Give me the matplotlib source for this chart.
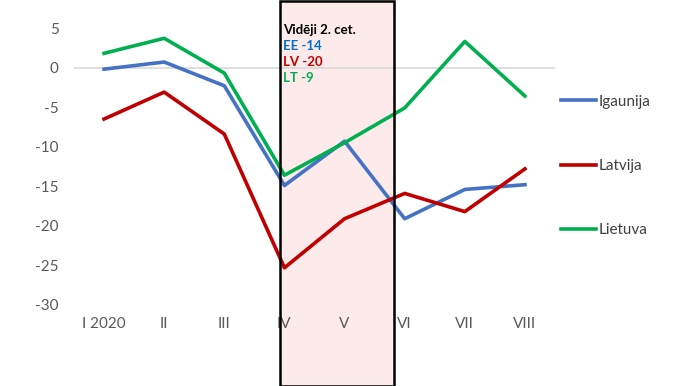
import numpy as np
import matplotlib
matplotlib.use("Agg")
import matplotlib.pyplot as plt
from matplotlib.patches import Rectangle
from matplotlib.transforms import blended_transform_factory

plt.rcParams['font.family'] = ['Lato', 'DejaVu Sans']
plt.rcParams['axes.unicode_minus'] = False

# months of 2020
months = ['I 2020', 'II', 'III', 'IV', 'V', 'VI', 'VII', 'VIII']
igaunija = [-0.2, 0.7, -2.3, -14.9, -9.3, -19.1, -15.4, -14.8]
latvija = [-6.5, -3.1, -8.4, -25.3, -19.1, -15.9, -18.2, -12.8]
lietuva = [1.8, 3.7, -0.7, -13.6, -9.5, -5.1, 3.3, -3.6]

# 2nd quarter averages
avg_labels = ['EE -14', 'LV -20', 'LT -9']

c_blue = '#4472C4'
c_red = '#C00000'
c_green = '#00B050'

fig = plt.figure(figsize=(7, 3.86), dpi=100)
ax = fig.add_axes([74/700, 81/386, 481/700, 277/386])
ax.set_facecolor('none')

x = np.arange(len(months))
ax.plot(x, igaunija, color=c_blue, lw=2.6, label='Igaunija', zorder=3, solid_joinstyle='round')
ax.plot(x, latvija, color=c_red, lw=2.6, label='Latvija', zorder=3, solid_joinstyle='round')
ax.plot(x, lietuva, color=c_green, lw=2.6, label='Lietuva', zorder=3, solid_joinstyle='round')

ax.axhline(0, color='#D9D9D9', lw=1.2, zorder=1)

ax.set_xlim(-0.5, len(months) - 0.5)
ax.set_ylim(-30, 5)
ax.set_yticks(np.arange(-30, 6, 5))
ax.set_xticks(x)
ax.set_xticklabels(months)
for s in ax.spines.values():
    s.set_visible(False)
ax.tick_params(axis='both', length=0, labelsize=11, labelcolor='#595959')
ax.tick_params(axis='y', pad=11)
ax.tick_params(axis='x', pad=9)

# highlighted quarter box (spans full figure height)
tr = blended_transform_factory(ax.transData, fig.transFigure)
x0, x1 = 2.93, 4.82
ax.add_patch(Rectangle((x0, 0.0), x1 - x0, 0.997, transform=tr, clip_on=False,
                       facecolor='#FDEAEA', edgecolor='none', zorder=0.5))
ax.add_patch(Rectangle((x0, 0.0), x1 - x0, 0.997, transform=tr, clip_on=False,
                       facecolor='none', edgecolor='black', lw=1.8, zorder=5))

ty = 1 - 30/386
fig.text(283/700, ty, 'Vidēji 2. cet.', fontsize=9.5, fontweight='bold', color='black', va='center')
for i, (lab, col) in enumerate(zip(avg_labels, ['#0070C0', c_red, c_green])):
    fig.text(283/700, ty - (i + 1) * 16/386, lab, fontsize=9.5, fontweight='bold', color=col, va='center')

leg = fig.legend(loc='center left', bbox_to_anchor=(561/700, 1 - 166/386), frameon=False,
                 fontsize=11, handlelength=2.3, handletextpad=0.15, labelspacing=3.3,
                 borderpad=0, borderaxespad=0)
for t in leg.get_texts():
    t.set_color('#404040')

fig.savefig('out.png', dpi=100)
